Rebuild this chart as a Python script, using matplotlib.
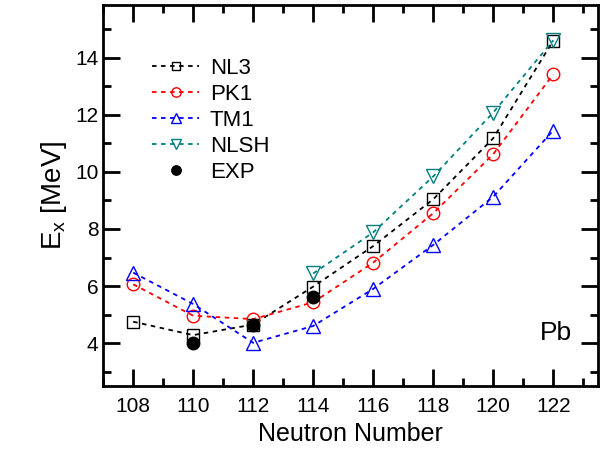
import numpy as np
import matplotlib
matplotlib.use("Agg")
import matplotlib.pyplot as plt
from matplotlib.ticker import MultipleLocator

plt.rcParams['font.family'] = ['Liberation Sans', 'DejaVu Sans']
plt.rcParams['mathtext.fontset'] = 'custom'
plt.rcParams['mathtext.rm'] = 'Liberation Sans'
plt.rcParams['mathtext.it'] = 'Liberation Sans'

# neutron numbers
n_all = [108, 110, 112, 114, 116, 118, 120, 122]
n_nlsh = [114, 116, 118, 120, 122]
n_exp = [110, 112, 114]

# excitation energies (MeV)
nl3 = [4.75, 4.28, 4.65, 5.98, 7.40, 9.04, 11.18, 14.60]
pk1 = [6.06, 4.96, 4.84, 5.43, 6.82, 8.55, 10.62, 13.42]
tm1 = [6.47, 5.37, 4.01, 4.60, 5.90, 7.44, 9.13, 11.45]
nlsh = [6.44, 7.88, 9.84, 12.08, 14.61]
exp = [4.01, 4.63, 5.62]

fig = plt.figure(figsize=(6, 4.54), dpi=100)
ax = fig.add_axes([0.172, 0.150, 0.825, 0.839])

ls = (0, (2.5, 2.5))
ax.plot(n_all, nl3, linestyle=ls, color='black', lw=1.3, marker='s', ms=8,
        mfc='none', mec='black', mew=1.0, label='NL3')
ax.plot(n_all, pk1, linestyle=ls, color='red', lw=1.3, marker='o', ms=9,
        mfc='none', mec='red', mew=1.0, label='PK1')
ax.plot(n_all, tm1, linestyle=ls, color='blue', lw=1.3, marker='^', ms=10,
        mfc='none', mec='blue', mew=1.0, label='TM1')
ax.plot(n_nlsh, nlsh, linestyle=ls, color='#008080', lw=1.3, marker='v', ms=10,
        mfc='none', mec='#008080', mew=1.0, label='NLSH')
ax.plot(n_exp, exp, linestyle='none', marker='o', ms=9, color='black', label='EXP')

ax.set_xlim(107, 123.5)
ax.set_ylim(2.5, 15.85)
ax.xaxis.set_major_locator(MultipleLocator(2))
ax.xaxis.set_minor_locator(MultipleLocator(1))
ax.yaxis.set_major_locator(MultipleLocator(2))
ax.yaxis.set_minor_locator(MultipleLocator(1))

ax.tick_params(which='both', direction='in', top=True, right=True, labelsize=15)
ax.tick_params(which='major', length=12, width=2)
ax.tick_params(which='minor', length=6, width=2)
ax.tick_params(axis='x', pad=8)
for s in ax.spines.values():
    s.set_linewidth(2)

ax.set_xlabel('Neutron Number', fontsize=18)
ax.set_ylabel(r'E$_{\mathrm{x}}$ [MeV]', fontsize=20)

ax.text(0.915, 0.14, 'Pb', transform=ax.transAxes, fontsize=19, ha='center', va='center')

leg = ax.legend(loc='upper left', bbox_to_anchor=(0.099, 0.862), frameon=False,
                fontsize=16, handlelength=2.1, labelspacing=0.23, handletextpad=0.5,
                borderpad=0, borderaxespad=0, markerscale=0.75)

fig.savefig('out.png', dpi=100)
